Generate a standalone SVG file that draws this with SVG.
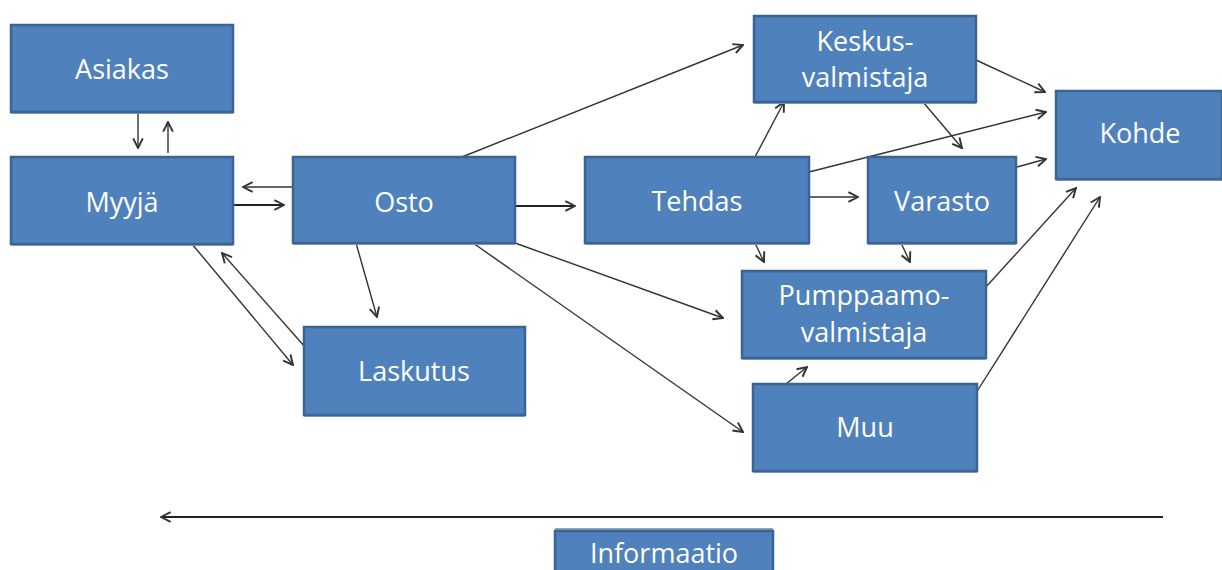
<svg xmlns="http://www.w3.org/2000/svg" width="1222" height="570" viewBox="0 0 1222 570">
<style>
.box{fill:#4F81BD;stroke:#3A6494;stroke-width:2.5}
.sh{fill:#8EA3C0}
.t{font-family:"Open Sans","Liberation Sans",sans-serif;font-size:27px;fill:#FFFFFF;text-anchor:middle}
.c{stroke:#333333;stroke-width:1.4;fill:none;marker-end:url(#a)}
.c2{stroke:#222222;stroke-width:2.2;fill:none;marker-end:url(#a)}
</style>
<defs>
<marker id="a" viewBox="0 0 10 10" refX="9" refY="5" markerWidth="12" markerHeight="12" markerUnits="userSpaceOnUse" orient="auto">
<path d="M1,1 L9,5 L1,9" fill="none" stroke="#333333" stroke-width="1.6"/>
</marker>
</defs>
<rect width="1222" height="570" fill="#FFFFFF"/>
<g id="connectors">
<line class="c" x1="138" y1="112" x2="138" y2="148"/>
<line class="c" x1="168" y1="153" x2="168" y2="122"/>
<line class="c" x1="293" y1="187" x2="243" y2="187"/>
<line class="c2" x1="233" y1="205" x2="284" y2="205"/>
<line class="c2" x1="515" y1="206" x2="575" y2="206"/>
<line class="c" x1="356" y1="243" x2="377" y2="317"/>
<line class="c" x1="192" y1="244" x2="293" y2="365"/>
<line class="c" x1="305" y1="347" x2="222" y2="253"/>
<line class="c" x1="462" y1="157" x2="743" y2="45"/>
<line class="c" x1="515" y1="243" x2="723" y2="318"/>
<line class="c" x1="473" y1="243" x2="743" y2="432"/>
<line class="c" x1="755" y1="157" x2="784" y2="102"/>
<line class="c" x1="809" y1="197" x2="858" y2="197"/>
<line class="c" x1="809" y1="172" x2="1046" y2="112"/>
<line class="c" x1="755" y1="243" x2="764" y2="262"/>
<line class="c" x1="901" y1="243" x2="910" y2="262"/>
<line class="c" x1="923" y1="102" x2="962" y2="148"/>
<line class="c" x1="976" y1="60" x2="1045" y2="92"/>
<line class="c" x1="1017" y1="167" x2="1046" y2="159"/>
<line class="c" x1="985" y1="288" x2="1076" y2="188"/>
<line class="c" x1="976" y1="393" x2="1100" y2="197"/>
<line class="c" x1="786" y1="384" x2="807" y2="367"/>
<line class="c2" x1="1163" y1="517" x2="161" y2="517"/>
</g>
<g id="asiakas"><rect class="sh" x="11" y="27" width="222" height="87"/><rect class="box" x="11" y="25" width="222" height="87"/><text class="t" x="122" y="79">Asiakas</text></g>
<g id="myyja"><rect class="sh" x="11" y="159" width="222" height="87"/><rect class="box" x="11" y="157" width="222" height="87"/><text class="t" x="122" y="212">Myyjä</text></g>
<g id="osto"><rect class="sh" x="293" y="159" width="222" height="86"/><rect class="box" x="293" y="157" width="222" height="86"/><text class="t" x="404" y="212">Osto</text></g>
<g id="laskutus"><rect class="sh" x="304" y="329" width="221" height="88"/><rect class="box" x="304" y="327" width="221" height="88"/><text class="t" x="414" y="381">Laskutus</text></g>
<g id="tehdas"><rect class="sh" x="585" y="159" width="224" height="86"/><rect class="box" x="585" y="157" width="224" height="86"/><text class="t" x="697" y="211">Tehdas</text></g>
<g id="keskusvalmistaja"><rect class="sh" x="754" y="18" width="222" height="86"/><rect class="box" x="754" y="16" width="222" height="86"/><text class="t" x="865" y="51">Keskus-</text><text class="t" x="865" y="87">valmistaja</text></g>
<g id="varasto"><rect class="sh" x="868" y="159" width="148" height="86"/><rect class="box" x="868" y="157" width="148" height="86"/><text class="t" x="942" y="211">Varasto</text></g>
<g id="pumppaamovalmistaja"><rect class="sh" x="742" y="273" width="244" height="87"/><rect class="box" x="742" y="271" width="244" height="87"/><text class="t" x="864" y="305">Pumppaamo-</text><text class="t" x="864" y="342">valmistaja</text></g>
<g id="muu"><rect class="sh" x="753" y="386" width="224" height="87"/><rect class="box" x="753" y="384" width="224" height="87"/><text class="t" x="865" y="437">Muu</text></g>
<g id="kohde"><rect class="sh" x="1056" y="93" width="166" height="88"/><rect class="box" x="1056" y="91" width="166" height="88"/><text class="t" x="1140" y="143">Kohde</text></g>
<g id="informaatio"><rect class="sh" x="555" y="528" width="218" height="44"/><rect class="box" x="555" y="531" width="218" height="44"/><text class="t" x="664" y="563">Informaatio</text></g>
</svg>
